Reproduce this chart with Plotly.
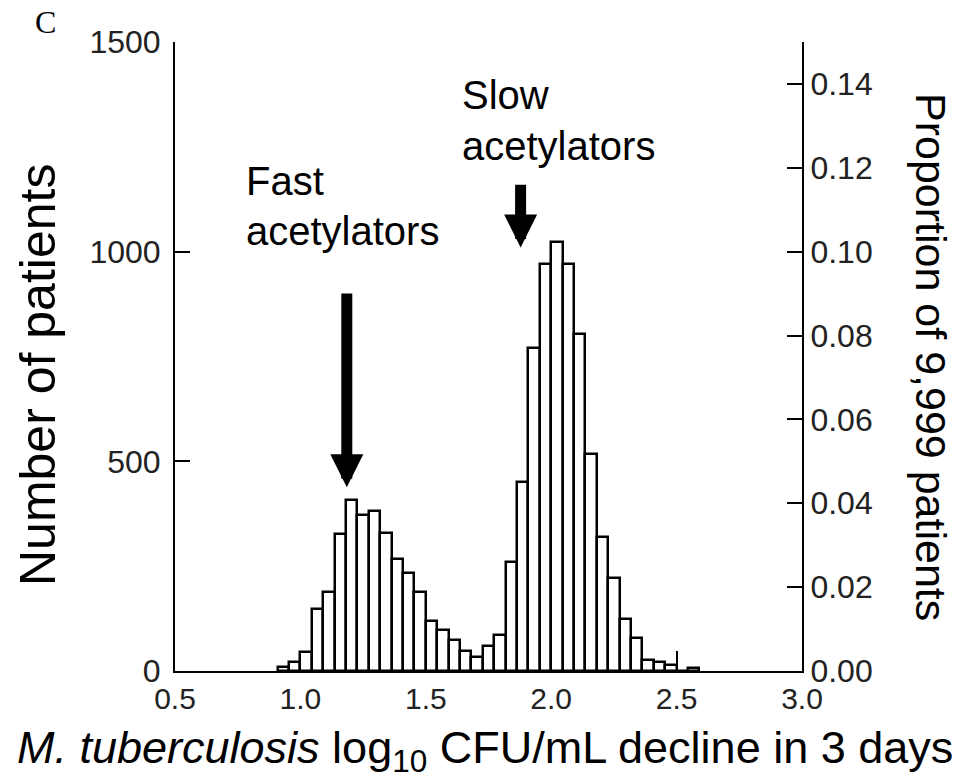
import plotly.graph_objects as go

# ---- data ----
bin_start = 0.9091          # left edge of first bin
bin_width = 1 / 22          # histogram bin width (log10 CFU/mL)
counts = [9, 21, 46, 149, 189, 326, 407, 371, 382, 330, 267, 233, 189, 120, 98, 73, 47, 34,
          60, 85, 260, 451, 771, 971, 1022, 971, 804, 518, 320, 221, 125, 78, 26, 21, 14, 0, 6]
n_patients = 9999
x_ticks = [0.5, 1.0, 1.5, 2.0, 2.5, 3.0]
y_ticks = [0, 500, 1000, 1500]
prop_ticks = [0.00, 0.02, 0.04, 0.06, 0.08, 0.10, 0.12, 0.14]

# arrows: (tip x, tip y, tail y) in data units
fast_arrow = (1.185, 438, 904)
slow_arrow = (1.878, 1010, 1163)

centers = [bin_start + bin_width * (i + 0.5) for i in range(len(counts))]

FONT = "Liberation Sans, Arial, Helvetica, sans-serif"

fig = go.Figure()
fig.add_trace(go.Bar(
    x=centers, y=counts, width=bin_width,
    marker=dict(color="white", line=dict(color="black", width=2.5)),
    showlegend=False, hoverinfo="skip",
))
fig.add_trace(go.Scatter(
    x=[centers[0]], y=[counts[0] / n_patients], yaxis="y2",
    mode="markers", marker=dict(opacity=0), showlegend=False, hoverinfo="skip",
))

axis_common = dict(
    showline=True, linecolor="black", linewidth=2,
    ticks="inside", tickcolor="black", tickwidth=2,
    showgrid=False, zeroline=False,
)

fig.update_layout(
    width=957, height=782,
    margin=dict(l=175, r=155, t=42, b=111),
    plot_bgcolor="white", paper_bgcolor="white",
    bargap=0,
    xaxis=dict(range=[0.5, 3.0], tickvals=x_ticks, ticktext=[f"{v:.1f}" for v in x_ticks],
               ticklen=20, tickfont=dict(family=FONT, size=30, color="#222"), **axis_common),
    yaxis=dict(range=[0, 1500], tickvals=y_ticks, ticklen=15, ticklabelstandoff=6,
               tickfont=dict(family=FONT, size=32, color="#222"), **axis_common),
    yaxis2=dict(range=[0, 1500 / n_patients], tickvals=prop_ticks, tickformat=".2f",
                overlaying="y", side="right", ticklen=15,
                tickfont=dict(family=FONT, size=32, color="#222"), **axis_common),
)

annotations = []
for (tx, ty, tail_y) in (fast_arrow, slow_arrow):
    annotations.append(dict(
        x=tx, y=ty, ax=tx, ay=tail_y, xref="x", yref="y", axref="x", ayref="y",
        showarrow=True, arrowhead=2, arrowwidth=11, arrowsize=0.6, arrowcolor="black",
        standoff=0, text="",
    ))

# pixel-placed texts: (x, y, text, size, angle, xanchor, family)
pixel_texts = [
    (244, 181, "Fast", 40, 0, "left", FONT),
    (244, 231, "acetylators", 40, 0, "left", FONT),
    (460, 95, "Slow", 40, 0, "left", FONT),
    (460, 146, "acetylators", 40, 0, "left", FONT),
    (38, 375, "Number of patients", 50, -90, "center", FONT),
    (931, 357, "Proportion of 9,999 patients", 43, 90, "center", FONT),
    (485, 750, "<i>M. tuberculosis</i> log<sub>10</sub> CFU/mL decline in 3 days", 45, 0, "center", FONT),
    (45, 22, "C", 32, 0, "center", "Liberation Serif, Times New Roman, serif"),
]

fig_w, fig_h = 957, 782
ml, mr, mt, mb = 175, 155, 42, 111
pw, ph = fig_w - ml - mr, fig_h - mt - mb
for (px, py, txt, fs, ang, xa, fam) in pixel_texts:
    annotations.append(dict(
        x=(px - ml) / pw, y=(fig_h - mb - py) / ph, xref="paper", yref="paper",
        text=txt, showarrow=False, textangle=ang, xanchor=xa, yanchor="middle",
        font=dict(family=fam, size=fs, color="black"),
    ))

fig.update_layout(annotations=annotations)
fig.write_html("out.html")
